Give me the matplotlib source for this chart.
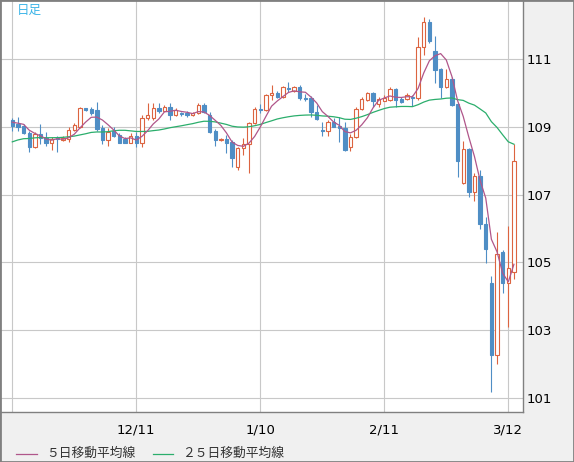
import numpy as np
import pandas as pd
import matplotlib
matplotlib.use('Agg')
import matplotlib.pyplot as plt
from matplotlib.patches import Rectangle
from matplotlib.lines import Line2D

# daily candles (11/11 .. 3/13)
open_ = [109.21, 109.08, 109.03, 108.81, 108.42, 108.79, 108.68, 108.54, 108.66, 108.62,
         108.64, 108.91, 109.00, 109.55, 109.53, 109.50, 108.98, 108.62, 108.89, 108.76,
         108.64, 108.54, 108.73, 108.54, 109.27, 109.27, 109.57, 109.47, 109.60, 109.35,
         109.40, 109.40, 109.35, 109.40, 109.65, 109.35, 108.88, 108.62, 108.64, 108.56,
         107.81, 108.37, 108.49, 109.13, 109.52, 109.49, 109.93, 110.00, 109.89, 110.15,
         110.06, 110.17, 109.85, 109.85, 109.45, 108.91, 108.89, 109.14, 109.03, 108.97,
         108.40, 108.70, 109.52, 109.80, 110.00, 109.68, 109.78, 109.80, 110.12, 109.84,
         109.83, 109.88, 109.85, 111.35, 112.09, 111.24, 110.70, 110.17, 110.42, 109.67,
         107.34, 108.34, 107.09, 107.55, 106.12, 104.39, 102.26, 105.30, 104.40, 104.72]
high = [109.26, 109.30, 109.09, 108.88, 108.86, 109.09, 108.86, 108.70, 108.73, 108.72,
        108.99, 109.12, 109.60, 109.56, 109.60, 109.73, 109.06, 108.96, 108.99, 108.82,
        108.70, 108.82, 108.86, 109.35, 109.70, 109.70, 109.70, 109.65, 109.70, 109.55,
        109.45, 109.47, 109.44, 109.70, 109.70, 109.44, 108.94, 108.66, 108.76, 108.61,
        108.42, 108.67, 109.16, 109.59, 109.68, 109.97, 110.24, 110.06, 110.21, 110.32,
        110.21, 110.24, 109.96, 109.92, 109.65, 109.16, 109.21, 109.26, 109.30, 109.16,
        108.79, 109.60, 109.88, 110.02, 110.03, 109.88, 109.94, 110.17, 110.15, 109.89,
        110.00, 109.94, 111.65, 112.24, 112.19, 111.69, 110.74, 110.70, 110.48, 109.70,
        108.59, 108.38, 107.65, 107.73, 106.33, 104.60, 105.90, 105.37, 106.07, 108.50]
low = [108.89, 108.89, 108.78, 108.25, 108.37, 108.50, 108.44, 108.32, 108.27, 108.60,
       108.56, 108.88, 108.97, 109.47, 109.35, 108.89, 108.50, 108.44, 108.70, 108.52,
       108.52, 108.52, 108.42, 108.42, 109.21, 109.21, 109.41, 109.47, 109.21, 109.32,
       109.32, 109.30, 109.32, 109.38, 109.41, 108.82, 108.45, 108.60, 108.22, 107.83,
       107.73, 108.17, 107.64, 109.09, 109.40, 109.47, 109.80, 109.86, 109.86, 110.02,
       110.03, 109.80, 109.77, 109.30, 109.21, 108.73, 108.73, 108.99, 108.56, 108.30,
       108.30, 108.66, 109.50, 109.78, 109.60, 109.60, 109.77, 109.77, 109.60, 109.72,
       109.80, 109.62, 109.81, 111.13, 111.47, 110.31, 109.87, 110.14, 109.62, 107.51,
       107.32, 106.94, 106.82, 105.98, 104.99, 101.18, 101.99, 104.08, 103.10, 104.50]
close = [109.03, 109.01, 108.81, 108.42, 108.78, 108.67, 108.54, 108.64, 108.64, 108.68,
         108.91, 109.06, 109.56, 109.50, 109.40, 108.94, 108.62, 108.86, 108.73, 108.53,
         108.54, 108.73, 108.54, 109.27, 109.35, 109.55, 109.47, 109.60, 109.35, 109.50,
         109.37, 109.35, 109.40, 109.65, 109.45, 108.86, 108.62, 108.65, 108.54, 108.09,
         108.37, 108.49, 109.13, 109.52, 109.49, 109.93, 110.00, 109.89, 110.17, 110.11,
         110.17, 109.85, 109.83, 109.45, 109.25, 108.89, 109.14, 109.01, 108.96, 108.32,
         108.70, 109.52, 109.82, 110.00, 109.78, 109.82, 109.86, 110.12, 109.81, 109.75,
         109.93, 109.86, 111.35, 112.09, 111.55, 110.68, 110.17, 110.41, 109.65, 108.00,
         108.34, 107.09, 107.55, 106.12, 105.39, 102.26, 105.24, 104.40, 104.82, 107.99]
# closes before the first visible day (needed for the moving averages), estimated
prev_close = [107.60, 107.90, 108.25, 108.30, 108.40, 108.75, 108.60, 108.60, 108.45, 108.50,
              108.55, 108.70, 108.65, 108.40, 108.60, 108.65, 108.60, 108.05, 108.20, 108.55,
              109.15, 108.98, 109.28, 109.26]

date_idx = [0, 22, 44, 66, 88]
date_labels = ['', '12/11', '1/10', '2/11', '3/12']
y_ticks = [101, 103, 105, 107, 109, 111]

# colours
c_up = '#dc6440'
c_down = '#4f8ec5'
c_ma5 = '#b0568a'
c_ma25 = '#2bae6c'

W, H = 574, 462
fig = plt.figure(figsize=(W / 100, H / 100), dpi=100, facecolor='#f0f0f0')
ax = fig.add_axes([0, 50 / H, 523 / W, 412 / H])
ax.set_facecolor('white')

n = len(close)
x = np.arange(n)

# moving averages
allc = pd.Series(prev_close + close)
ma5 = allc.rolling(5).mean().values[-n:]
ma25 = allc.rolling(25).mean().values[-n:]

# candles
w = 0.6
for i in range(n):
    o, h, l, c = open_[i], high[i], low[i], close[i]
    up = c >= o
    col = c_up if up else c_down
    ax.vlines(x[i], l, h, color=col, lw=0.8, zorder=2)
    ax.add_patch(Rectangle((x[i] - w / 2, min(o, c)), w, max(abs(c - o), 0.01),
                           facecolor='white' if up else c_down, edgecolor=col,
                           lw=0.8, zorder=2.5))

ax.plot(x, ma25, color=c_ma25, lw=0.9, zorder=3)
ax.plot(x, ma5, color=c_ma5, lw=0.9, zorder=3)

ax.set_xlim(-2.18, 90.61)
ax.set_ylim(100.577, 112.752)

ax.set_xticks(date_idx)
ax.set_xticklabels(date_labels)
ax.set_yticks(y_ticks)
ax.yaxis.tick_right()
ax.tick_params(axis='y', length=0, pad=2.5, labelsize=9.5, colors='black')
ax.tick_params(axis='x', length=0, pad=8, labelsize=9.5, colors='black')
ax.grid(True, color='#c8c8c8', lw=0.8)
ax.set_axisbelow(True)

for s in ['top', 'left']:
    ax.spines[s].set_visible(False)
for s in ['right', 'bottom']:
    ax.spines[s].set_color('#808080')
    ax.spines[s].set_linewidth(1.0)

jp = ['Noto Sans CJK JP', 'DejaVu Sans']

# "日足" label top left
ax.text(17 / 523, 1 - 4 / 412, '日足', transform=ax.transAxes, ha='left', va='top',
        fontsize=9, color='#3db5e8', family=jp)

# legend at the bottom
ly = 1 - 453.5 / H
fig.add_artist(Line2D([16 / W, 37 / W], [ly, ly], color=c_ma5, lw=0.9))
fig.text(46 / W, ly, '５日移動平均線', ha='left', va='center', fontsize=9.2,
         color='#333333', family=jp)
fig.add_artist(Line2D([153 / W, 173 / W], [ly, ly], color=c_ma25, lw=0.9))
fig.text(182 / W, ly, '２５日移動平均線', ha='left', va='center', fontsize=9.2,
         color='#333333', family=jp)

# outer frame
fig.add_artist(Rectangle((0, 0), 1, 1, transform=fig.transFigure, fill=False,
                         ec='#808080', lw=2))

fig.savefig('out.png', dpi=100, facecolor=fig.get_facecolor())
